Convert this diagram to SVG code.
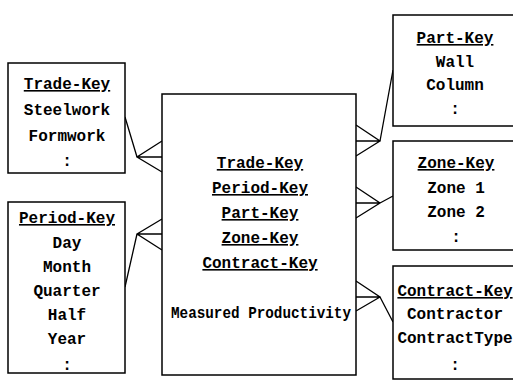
<svg xmlns="http://www.w3.org/2000/svg" width="513" height="381" viewBox="0 0 513 381">
  <style>
    .box { fill: #fff; stroke: #000; stroke-width: 1.5; }
    .lbl { font-family: "Liberation Mono", "Courier New", monospace; font-size: 16px; font-weight: bold; fill: #000; text-anchor: middle; }
    .key { text-decoration: underline; }
    .link { fill: none; stroke: #000; stroke-width: 1.3; stroke-linejoin: miter; }
  </style>
  <rect width="513" height="381" fill="#fff"/>

  <g id="connectors">
    <!-- Trade dimension to fact table -->
    <path class="link" d="M125,117 L137,157 M162,141 L137,157 L162,172 M137,157 L162,157"/>
    <!-- Period dimension to fact table -->
    <path class="link" d="M125,287 L137,234 M162,219 L137,234 L162,250 M137,234 L162,234"/>
    <!-- Part dimension to fact table -->
    <path class="link" d="M393,70 L380,141 M356,125 L380,141 L356,156 M380,141 L356,141"/>
    <!-- Zone dimension to fact table -->
    <path class="link" d="M393,196 L380,203 M356,187 L380,203 L356,218 M380,203 L356,203"/>
    <!-- Contract dimension to fact table -->
    <path class="link" d="M393,322 L380,297 M356,281 L380,297 L356,311 M380,297 L356,297"/>
  </g>

  <g id="trade">
    <rect class="box" x="8" y="63" width="117" height="110"/>
    <text class="lbl key" x="67" y="89">Trade-Key</text>
    <text class="lbl" x="67" y="115">Steelwork</text>
    <text class="lbl" x="67" y="141">Formwork</text>
    <text class="lbl" x="67" y="166">:</text>
  </g>

  <g id="period">
    <rect class="box" x="8" y="202" width="117" height="171"/>
    <text class="lbl key" x="67" y="223">Period-Key</text>
    <text class="lbl" x="67" y="248">Day</text>
    <text class="lbl" x="67" y="272">Month</text>
    <text class="lbl" x="67" y="296">Quarter</text>
    <text class="lbl" x="67" y="320">Half</text>
    <text class="lbl" x="67" y="344">Year</text>
    <text class="lbl" x="67" y="370">:</text>
  </g>

  <g id="fact">
    <rect class="box" x="162" y="94" width="194" height="281"/>
    <text class="lbl key" x="260" y="168">Trade-Key</text>
    <text class="lbl key" x="260" y="193">Period-Key</text>
    <text class="lbl key" x="260" y="218">Part-Key</text>
    <text class="lbl key" x="260" y="243">Zone-Key</text>
    <text class="lbl key" x="260" y="268">Contract-Key</text>
    <text class="lbl" x="261" y="318" textLength="180" lengthAdjust="spacingAndGlyphs">Measured Productivity</text>
  </g>

  <g id="part">
    <rect class="box" x="393" y="15" width="125" height="111"/>
    <text class="lbl key" x="455" y="43">Part-Key</text>
    <text class="lbl" x="455" y="67">Wall</text>
    <text class="lbl" x="455" y="90">Column</text>
    <text class="lbl" x="455" y="114">:</text>
  </g>

  <g id="zone">
    <rect class="box" x="393" y="141" width="125" height="109"/>
    <text class="lbl key" x="456" y="168">Zone-Key</text>
    <text class="lbl" x="456" y="193">Zone 1</text>
    <text class="lbl" x="456" y="217">Zone 2</text>
    <text class="lbl" x="456" y="242">:</text>
  </g>

  <g id="contract">
    <rect class="box" x="393" y="266" width="125" height="113"/>
    <text class="lbl key" x="455" y="296">Contract-Key</text>
    <text class="lbl" x="455" y="319">Contractor</text>
    <text class="lbl" x="455" y="343">ContractType</text>
    <text class="lbl" x="455" y="370">:</text>
  </g>
</svg>
